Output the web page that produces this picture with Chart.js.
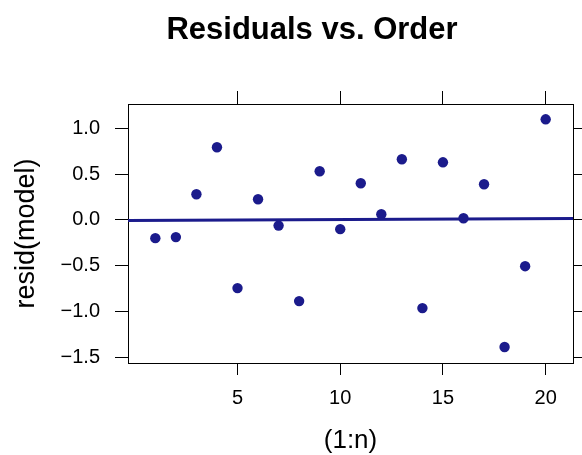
<!DOCTYPE html>
<html>
<head>
<meta charset="utf-8">
<script src="https://cdn.jsdelivr.net/npm/chart.js@4"></script>
<style>
  html, body { margin: 0; padding: 0; background: #fff; }
  #wrap { width: 582px; height: 455px; }
</style>
</head>
<body>
<div id="wrap"><canvas id="chart" width="582" height="455"></canvas></div>
<script>
// observation order and residuals
const order = [1, 2, 3, 4, 5, 6, 7, 8, 9, 10, 11, 12, 13, 14, 15, 16, 17, 18, 19, 20];
const residuals = [-0.199, -0.188, 0.280, 0.792, -0.744, 0.225, -0.062, -0.886, 0.530, -0.101,
                   0.400, 0.062, 0.661, -0.962, 0.628, 0.018, 0.389, -1.387, -0.505, 1.097];

// fitted trend line across the panel
const trendX = [-0.33, 21.33];
const trendY = [-0.008, 0.016];

const xTicks = [5, 10, 15, 20];
const yTicks = [-1.5, -1.0, -0.5, 0.0, 0.5, 1.0];

const xRange = [-0.33, 21.33];
const yRange = [-1.561, 1.264];

const navy = '#1b1b8c';

Chart.defaults.font.family = "'Liberation Sans', Arial, sans-serif";
Chart.defaults.color = '#000';

const fmtY = (v) => (v < 0 ? '\u2212' : '') + Math.abs(v).toFixed(1);

// shared look for the four frame axes
const axisBase = (tickLength) => ({
  type: 'linear',
  grid: { drawOnChartArea: false, tickLength: tickLength, tickColor: '#000', color: '#000', lineWidth: 1 },
  border: { display: true, color: '#000', width: 1 }
});

const mainTitle = {
  id: 'mainTitle',
  afterDraw(chart) {
    const ctx = chart.ctx;
    ctx.save();
    ctx.font = "bold 31px 'Liberation Sans', Arial, sans-serif";
    ctx.fillStyle = '#000';
    ctx.textAlign = 'center';
    ctx.textBaseline = 'alphabetic';
    ctx.fillText('Residuals vs. Order', 312, 39);
    ctx.restore();
  }
};

new Chart(document.getElementById('chart'), {
  data: {
    datasets: [
      {
        type: 'scatter',
        data: order.map((x, i) => ({ x: x, y: residuals[i] })),
        backgroundColor: navy,
        borderWidth: 0,
        pointRadius: 5.2,
        order: 1
      },
      {
        type: 'line',
        data: trendX.map((x, i) => ({ x: x, y: trendY[i] })),
        borderColor: navy,
        borderWidth: 3,
        pointRadius: 0,
        order: 2
      }
    ]
  },
  options: {
    responsive: false,
    animation: false,
    devicePixelRatio: 1,
    layout: { padding: 0 },
    plugins: { legend: { display: false }, tooltip: { enabled: false } },
    scales: {
      x: {
        ...axisBase(12),
        position: 'bottom',
        min: xRange[0], max: xRange[1],
        afterBuildTicks: (s) => { s.ticks = xTicks.map(v => ({ value: v })); },
        afterFit: (s) => { s.height = 92; },
        ticks: { font: { size: 20 }, padding: 11, maxRotation: 0, autoSkip: false, callback: (v) => String(v) },
        title: { display: true, text: '(1:n)', font: { size: 26, lineHeight: 1 }, padding: { top: 0, bottom: 1 } }
      },
      x2: {
        ...axisBase(13),
        position: 'top',
        min: xRange[0], max: xRange[1],
        afterBuildTicks: (s) => { s.ticks = xTicks.map(v => ({ value: v })); },
        afterFit: (s) => { s.height = 104; },
        ticks: { display: false }
      },
      y: {
        ...axisBase(13),
        position: 'left',
        min: yRange[0], max: yRange[1],
        afterBuildTicks: (s) => { s.ticks = yTicks.map(v => ({ value: v })); },
        afterFit: (s) => { s.width = 128; },
        ticks: { font: { size: 20 }, padding: 15, autoSkip: false, callback: fmtY },
        title: { display: true, text: 'resid(model)', font: { size: 27, lineHeight: 1 }, padding: { top: 13, bottom: 0 } }
      },
      y2: {
        ...axisBase(13),
        position: 'right',
        min: yRange[0], max: yRange[1],
        afterBuildTicks: (s) => { s.ticks = yTicks.map(v => ({ value: v })); },
        afterFit: (s) => { s.width = 9; },
        ticks: { display: false }
      }
    }
  },
  plugins: [mainTitle]
});
</script>
</body>
</html>
